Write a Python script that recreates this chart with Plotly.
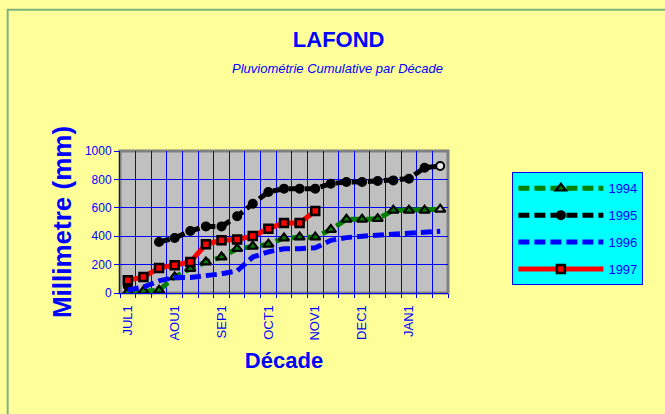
import plotly.graph_objects as go

# ---- data ----
decades = ["JUL1", "JUL2", "JUL3", "AOU1", "AOU2", "AOU3", "SEP1", "SEP2", "SEP3",
           "OCT1", "OCT2", "OCT3", "NOV1", "NOV2", "NOV3", "DEC1", "DEC2", "DEC3",
           "JAN1", "JAN2", "JAN3"]
tick_labels = ["JUL1", "AOU1", "SEP1", "OCT1", "NOV1", "DEC1", "JAN1"]
y_ticks = [0, 200, 400, 600, 800, 1000]

rain_1994 = [7, 14, 19, 113, 171, 218, 253, 312, 329, 343, 387, 394, 394, 446, 519, 519, 523, 582, 582, 582, 589]
rain_1995 = [50, None, 359, 387, 437, 469, 469, 540, 629, 711, 735, 735, 735, 770, 782, 782, 789, 793, 805, 882, 894]
rain_1996 = [20, 42, 85, 110, 110, 120, 135, 155, 253, 290, 312, 312, 318, 371, 390, 400, 406, 418, 422, 430, 435]
rain_1997 = [89, 113, 176, 195, 218, 343, 371, 376, 401, 453, 493, 493, 577] + [None] * 8

xs = list(range(1, len(decades) + 1))
tickvals = [xs[decades.index(t)] for t in tick_labels]

# ---- layout geometry (pixels) ----
W, H = 665, 414
L, R = 120, 448.5
T, B = 150.7, 292.7
BLUE = "#0000FF"
FONT = "Liberation Sans, Arial, sans-serif"

def px_x(p):
    return (p - L) / (R - L)

def px_y(p):
    return (B - p) / (B - T)

fig = go.Figure()

n = len(xs)
fig.add_trace(go.Scatter(
    x=xs, y=rain_1994, name="1994", mode="lines+markers", legendgroup="a",
    line=dict(color="#008000", width=5, dash="11px,5px"),
    marker=dict(symbol="triangle-up", size=9,
                color=["#008000"] * (n - 1) + ["#C0C0C0"],
                line=dict(color="black", width=2.2)),
))
fig.add_trace(go.Scatter(
    x=xs, y=rain_1995, name="1995", mode="lines+markers", legendgroup="b",
    line=dict(color="black", width=5, dash="11px,5px"),
    marker=dict(symbol="circle", size=8,
                color=["black"] * (n - 1) + ["#E8E8E8"],
                line=dict(color="black", width=2)),
))
fig.add_trace(go.Scatter(
    x=xs, y=rain_1996, name="1996", mode="lines", legendgroup="c",
    line=dict(color=BLUE, width=5, dash="11px,5px"),
))
fig.add_trace(go.Scatter(
    x=xs, y=rain_1997, name="1997", mode="lines+markers", legendgroup="d",
    line=dict(color="#FF0000", width=5),
    marker=dict(symbol="square", size=8, color="#FF0000",
                line=dict(color="black", width=2.5)),
))

shapes = [
    # plot-area frame
    dict(type="rect", xref="paper", yref="paper", x0=0, x1=1, y0=0, y1=1,
         line=dict(color="#808080", width=3), layer="between"),
    # outer chart border (left/top visible)
    dict(type="rect", xref="paper", yref="paper",
         x0=px_x(7.5), x1=px_x(720), y0=px_y(470), y1=px_y(9.5),
         line=dict(color="#80B080", width=2), layer="below"),
]

fig.update_layout(
    width=W, height=H,
    margin=dict(l=L, r=W - R, t=T, b=H - B, pad=0),
    paper_bgcolor="#FFFF99",
    plot_bgcolor="#C0C0C0",
    font=dict(family=FONT, color=BLUE),
    title=dict(text="<b>LAFOND</b>", font=dict(size=22, color=BLUE, family=FONT),
               xref="paper", x=px_x(339), xanchor="center",
               yref="container", y=1 - 39 / H, yanchor="middle"),
    annotations=[dict(text="<i>Pluviométrie Cumulative par Décade</i>",
                      xref="paper", yref="paper", x=px_x(338), y=px_y(68),
                      xanchor="center", yanchor="middle", showarrow=False,
                      font=dict(size=13, color=BLUE, family=FONT))],
    shapes=shapes,
    showlegend=True,
    legend=dict(x=px_x(513), y=px_y(172), xanchor="left", yanchor="top",
                bgcolor="#00FFFF", bordercolor=BLUE, borderwidth=1,
                font=dict(size=13, color=BLUE, family=FONT),
                itemwidth=85, tracegroupgap=7, traceorder="grouped"),
    xaxis=dict(range=[0.5, n + 0.5], tickmode="array", tickvals=tickvals, ticktext=tick_labels,
               tickangle=-90, tickfont=dict(size=13, color=BLUE, family=FONT),
               ticks="outside", ticklen=6, tickcolor="rgba(0,0,0,0)",
               showgrid=False, zeroline=False,
               showline=True, linecolor=BLUE, linewidth=1,
               minor=dict(tickmode="array", tickvals=[i + 0.5 for i in range(n + 1)],
                          showgrid=True, gridcolor=BLUE, gridwidth=1,
                          ticks="outside", ticklen=4, tickcolor=BLUE),
               title=dict(text="<b>Décade</b>", font=dict(size=22, color=BLUE, family=FONT),
                          standoff=12)),
    yaxis=dict(range=[0, 1000], tickmode="array", tickvals=y_ticks,
               tickfont=dict(size=12, color=BLUE, family=FONT),
               ticks="outside", ticklen=5, tickcolor=BLUE,
               showgrid=True, gridcolor=BLUE, gridwidth=1, zeroline=False,
               showline=True, linecolor=BLUE, linewidth=1,
               title=dict(text="<b>Millimetre (mm)</b>", font=dict(size=26, color=BLUE, family=FONT),
                          standoff=5)),
)

fig.write_html("out.html", config={"displayModeBar": False},
               post_script="document.body.style.margin='0';")
